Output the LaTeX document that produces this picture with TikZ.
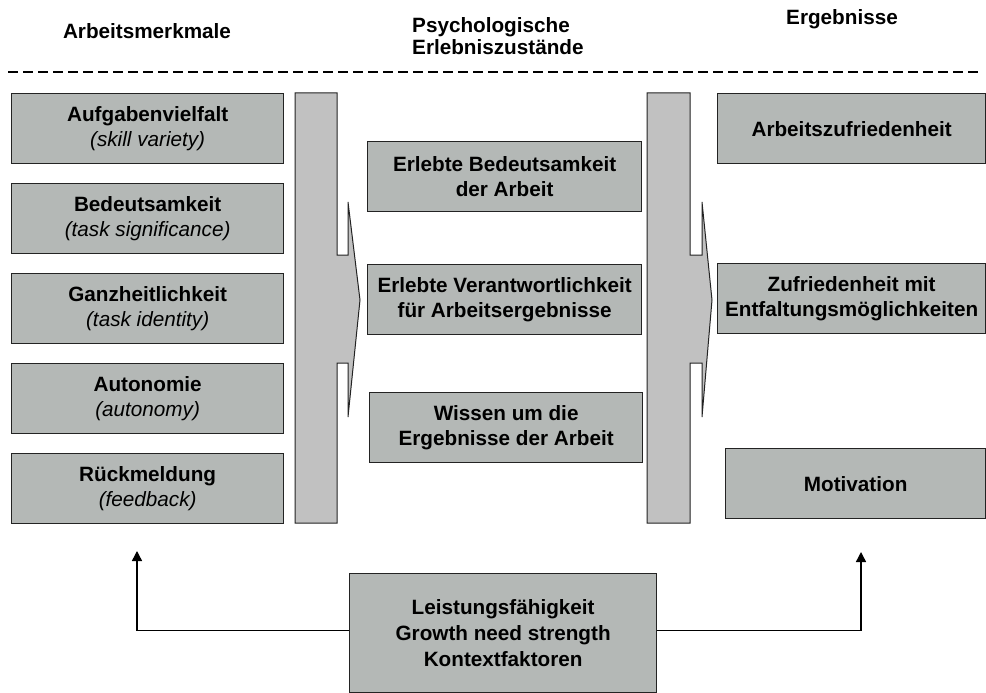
\documentclass[tikz,border=0pt]{standalone}
\usepackage{fontspec}
\setmainfont{Liberation Sans}
\usetikzlibrary{arrows.meta}
\definecolor{boxfill}{RGB}{180,184,182}
\definecolor{barfill}{RGB}{193,193,193}
\definecolor{edge}{RGB}{35,35,35}
% English term under a German label
\newcommand{\engterm}[1]{{\mdseries\itshape #1}}
\begin{document}
\begin{tikzpicture}[x=1pt,y=-1pt,
  lbl/.style={font=\fontsize{20.7}{24.5}\selectfont\bfseries, align=center, inner sep=0pt},
  heading/.style={font=\fontsize{20.7}{22}\selectfont\bfseries, inner sep=0pt},
  card/.style={lbl, draw=edge, line width=1.3pt, fill=boxfill, anchor=north west,
    minimum height=70pt},
  bar/.style={draw=edge, line width=1pt, fill=barfill, line join=miter},
  conn/.style={draw=black, line width=1.4pt, -{Triangle[width=10pt,length=10pt]}}
]
\useasboundingbox (0,0) rectangle (986,693);
\clip (0,0) rectangle (986,693);

% column headings
\node[heading] (h1) at (147,31) {Arbeitsmerkmale};
\node[heading, align=left, anchor=west, font=\fontsize{20.7}{22.5}\selectfont\bfseries] (h2) at (412,36) {Psychologische\\Erlebniszustände};
\node[heading] (h3) at (842,19) {Ergebnisse};
\draw[line width=1.3pt, dash pattern=on 10pt off 5pt] (8,72) -- (982,72);

% job characteristics
\node[card, minimum width=272pt] (a1) at (11,93)  {Aufgabenvielfalt\\\engterm{(skill variety)}};
\node[card, minimum width=272pt] (a2) at (11,183) {Bedeutsamkeit\\\engterm{(task significance)}};
\node[card, minimum width=272pt] (a3) at (11,273) {Ganzheitlichkeit\\\engterm{(task identity)}};
\node[card, minimum width=272pt] (a4) at (11,363) {Autonomie\\\engterm{(autonomy)}};
\node[card, minimum width=272pt] (a5) at (11,453) {Rückmeldung\\\engterm{(feedback)}};

% block arrows between the columns
\draw[bar] (295,93) -- (337,93) -- (337,255) -- (348,255) -- (348,202) -- (360,300)
  -- (348,417) -- (348,363) -- (337,363) -- (337,523) -- (295,523) -- cycle;
\draw[bar] (647,93) -- (690,93) -- (690,255) -- (702,255) -- (702,202) -- (712,300)
  -- (702,417) -- (702,363) -- (690,363) -- (690,523) -- (647,523) -- cycle;

% psychological states
\node[card, minimum width=274pt] (p1) at (367,141) {Erlebte Bedeutsamkeit\\der Arbeit};
\node[card, minimum width=274pt] (p2) at (367,264) {Erlebte Verantwortlichkeit\\für Arbeitsergebnisse};
\node[card, minimum width=273pt] (p3) at (369,392) {Wissen um die\\Ergebnisse der Arbeit};

% outcomes
\node[card, minimum width=268pt] (o1) at (717,93)  {Arbeitszufriedenheit};
\node[card, minimum width=268pt] (o2) at (717,263) {Zufriedenheit mit\\Entfaltungsmöglichkeiten};
\node[card, minimum width=260pt] (o3) at (725,448) {Motivation};

% moderators
\node[card, minimum width=307pt, minimum height=119pt, font=\fontsize{20.7}{26}\selectfont\bfseries] (m) at (349,573)
  {Leistungsfähigkeit\\Growth need strength\\Kontextfaktoren};

\coordinate (lt) at (137,551);
\coordinate (rt) at (861,552);
\draw[conn] ([yshift=2.5pt]m.west) -| (lt);
\draw[conn] ([yshift=2.5pt]m.east) -| (rt);
\end{tikzpicture}
\end{document}
